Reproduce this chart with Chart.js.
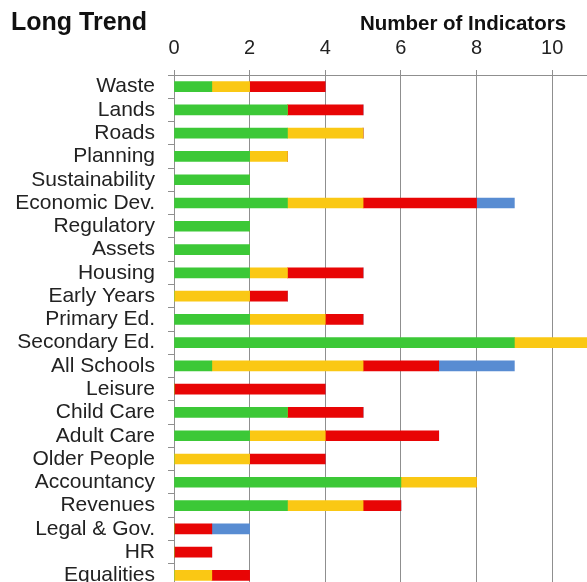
<!DOCTYPE html>
<html>
<head>
<meta charset="utf-8">
<script src="https://cdn.jsdelivr.net/npm/chart.js@4/dist/chart.umd.min.js"></script>
<style>
  html, body { margin: 0; padding: 0; background: #fff; overflow: hidden; }
  #wrap { position: relative; width: 590px; height: 587px; }
</style>
</head>
<body>
<div id="wrap"><canvas id="trend" width="590" height="587"></canvas></div>
<script>
// categories (top to bottom)
var categories = [
    "Waste", "Lands", "Roads", "Planning", "Sustainability", "Economic Dev.",
    "Regulatory", "Assets", "Housing", "Early Years", "Primary Ed.",
    "Secondary Ed.", "All Schools", "Leisure", "Child Care", "Adult Care",
    "Older People", "Accountancy", "Revenues", "Legal & Gov.", "HR", "Equalities"
];

// number of indicators in each status band
var greenValues  = [1, 3, 3, 2, 2, 3, 2, 2, 2, 0, 2, 9, 1, 0, 3, 2, 0, 6, 3, 0, 0, 0];
var yellowValues = [1, 0, 2, 1, 0, 2, 0, 0, 1, 2, 2, 2, 4, 0, 0, 2, 2, 2, 2, 0, 0, 1];
var redValues    = [2, 2, 0, 0, 0, 3, 0, 0, 2, 1, 1, 0, 2, 4, 2, 3, 2, 0, 1, 1, 1, 1];
var blueValues   = [0, 0, 0, 0, 0, 1, 0, 0, 0, 0, 0, 0, 2, 0, 0, 0, 0, 0, 0, 1, 0, 0];

var xTicks = [0, 2, 4, 6, 8, 10];

document.addEventListener("DOMContentLoaded", function () {
    var ctx = document.getElementById("trend").getContext("2d");
    var gridGrey = "#8f8f8f";

    // heading texts drawn on the canvas
    var headings = {
        id: "headings",
        afterDraw: function (chart) {
            var c = chart.ctx;
            c.save();
            c.fillStyle = "#111";
            c.textBaseline = "alphabetic";
            c.textAlign = "left";
            c.font = "bold 25px 'Liberation Sans', Arial, sans-serif";
            c.fillText("Long Trend", 11, 30);
            c.textAlign = "center";
            c.font = "bold 20.5px 'Liberation Sans', Arial, sans-serif";
            c.fillText("Number of Indicators", 463, 30);
            c.restore();
        }
    };

    function band(label, values, colour) {
        return {
            label: label,
            data: values,
            backgroundColor: colour,
            borderWidth: 0,
            barThickness: 10
        };
    }

    new Chart(ctx, {
        type: "bar",
        data: {
            labels: categories,
            datasets: [
                band("Green", greenValues, "rgb(60, 200, 55)"),
                band("Amber", yellowValues, "rgb(250, 200, 20)"),
                band("Red", redValues, "rgb(232, 5, 5)"),
                band("Blue", blueValues, "rgb(88, 140, 210)")
            ]
        },
        options: {
            indexAxis: "y",
            responsive: false,
            animation: false,
            layout: { padding: 0 },
            plugins: {
                legend: { display: false },
                tooltip: { enabled: false }
            },
            scales: {
                x: {
                    position: "top",
                    stacked: true,
                    min: 0,
                    max: 11,
                    afterBuildTicks: function (scale) {
                        scale.ticks = xTicks.map(function (v) { return { value: v }; });
                    },
                    afterFit: function (scale) {
                        scale.height = 75;
                        scale.paddingLeft = 0;
                        scale.paddingRight = 0;
                    },
                    ticks: {
                        padding: 10,
                        color: "#222",
                        font: { family: "'Liberation Sans', Arial, sans-serif", size: 20 }
                    },
                    grid: { color: gridGrey, lineWidth: 1, tickLength: 5 },
                    border: { color: gridGrey }
                },
                y: {
                    stacked: true,
                    afterFit: function (scale) {
                        scale.width = 174;
                        scale.paddingTop = 0;
                        scale.paddingBottom = 0;
                    },
                    ticks: {
                        autoSkip: false,
                        padding: 13,
                        color: "#222",
                        font: { family: "'Liberation Sans', Arial, sans-serif", size: 21 }
                    },
                    grid: { drawOnChartArea: false, color: gridGrey, tickLength: 6 },
                    border: { color: gridGrey }
                }
            }
        },
        plugins: [headings]
    });
});
</script>
</body>
</html>
